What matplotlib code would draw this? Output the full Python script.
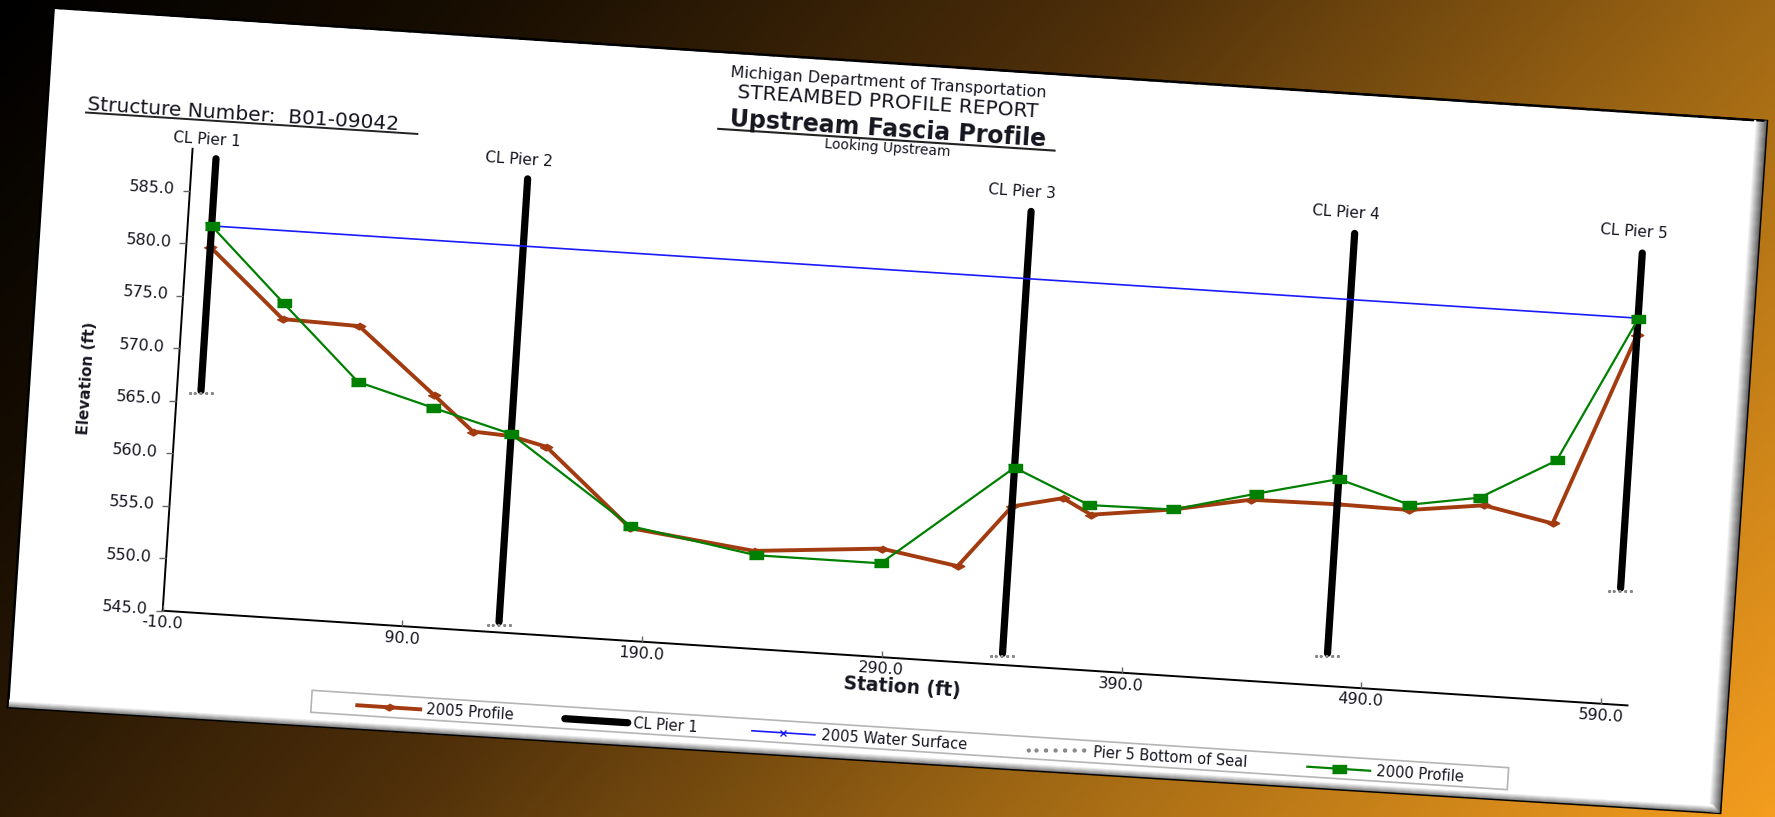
import numpy as np
import matplotlib.pyplot as plt
from matplotlib.transforms import Affine2D
from matplotlib.patches import Polygon, Rectangle
from matplotlib.colors import LinearSegmentedColormap

# Streambed profile data: station (ft) and elevation (ft)
station_2005 = [0, 32, 64, 97, 114, 130, 145, 182, 234, 287, 319, 340, 361, 373,
                407, 439, 475, 505, 536, 565, 595]
elev_2005 = [579.8, 573.4, 573.2, 567.1, 563.9, 563.7, 562.9, 555.7, 554.3, 555.3,
             554.1, 560.1, 561.2, 559.8, 560.8, 562.2, 562.3, 562.2, 563.1, 561.8, 580.2]
station_2000 = [0, 32, 65, 97, 130, 182, 235, 287, 340, 372, 407, 441, 475, 505,
                534, 565, 595]
elev_2000 = [581.8, 574.9, 567.9, 565.9, 563.9, 555.9, 553.9, 553.9, 563.8, 560.7,
             560.8, 562.8, 564.7, 562.7, 563.8, 567.8, 581.7]
water_station = [0, 595]
water_elev = [581.8, 581.8]

pier_names = ['CL Pier 1', 'CL Pier 2', 'CL Pier 3', 'CL Pier 4', 'CL Pier 5']
pier_station = [0, 130, 340, 475, 595]
pier_top = [588.2, 588.2, 588.2, 588.1, 588.0]
pier_bottom = [566.1, 546.0, 546.1, 548.1, 556.1]

xticks = [-10, 90, 190, 290, 390, 490, 590]
yticks = [545, 550, 555, 560, 565, 570, 575, 580, 585]
legend_labels = ['2005 Profile', 'CL Pier 1', '2005 Water Surface',
                 'Pier 5 Bottom of Seal', '2000 Profile']

W, H = 1775, 817
fig = plt.figure(figsize=(W / 100, H / 100), dpi=100)

# plot area (unrotated, pixels) and the tilt of the whole sheet
x0, y0, pw, ph = 162.7, 206.3, 1441.4, 420.8
tilt = Affine2D().rotate_deg_around(x0, y0, -3.7)

# orange-black gradient background
bg = fig.add_axes([0, 0, 1, 1])
yy, xx = np.mgrid[0:1:300j, 0:1:600j]
shade = 0.7 * xx + 0.3 * yy
bg_cmap = LinearSegmentedColormap.from_list(
    'bg', [(0, '#000000'), (0.2, '#1a0f02'), (0.45, '#4f300a'),
           (0.7, '#a06814'), (1.0, '#f49d1e')])
bg.imshow(shade, cmap=bg_cmap, extent=(0, W, 0, H), origin='upper',
          aspect='auto', interpolation='bilinear')
bg.set_xlim(0, W)
bg.set_ylim(0, H)
bg.axis('off')

# the white sheet, in pixel units before tilting
page = fig.add_axes([0, 0, 1, 1])
page.set_xlim(0, W)
page.set_ylim(0, H)
page.axis('off')
P = page.transData + tilt

card = [(15, 801), (1732, 798.5), (1730, 105), (14.5, 100)]
page.add_patch(Polygon(card, closed=True, fc='white', ec='black', lw=1.8,
                       transform=P, clip_on=False))
for k in range(1, 13):
    g = str(0.35 + 0.65 * k / 12)
    page.plot([1732 - k, 1730 - k], [798, 106], color=g, lw=1.1,
              transform=P, clip_on=False)
for k in range(1, 8):
    g = str(0.45 + 0.55 * k / 7)
    page.plot([16, 1729 - k], [100 + k, 105 + k], color=g, lw=1.1,
              transform=P, clip_on=False)
page.plot([15, 1732], [801, 798.5], color='black', lw=1.5, ls=(0, (4, 3)),
          transform=P, clip_on=False)

txt = dict(color='#15151f', transform=P, transform_rotates_text=True,
           rotation_mode='anchor', clip_on=False)
page.text(852.5, 775.5, 'Michigan Department of Transportation', fontsize=11.5,
          ha='center', va='baseline', **txt)
page.text(853.5, 755.3, 'STREAMBED PROFILE REPORT', fontsize=14.5,
          ha='center', va='baseline', **txt)
page.text(855, 727, 'Upstream Fascia Profile', fontsize=17, fontweight='bold',
          ha='center', va='baseline', **txt)
page.plot([686, 1023], [723, 723], color='#222222', lw=1.5, transform=P, clip_on=False)
page.text(856, 710.5, 'Looking Upstream', fontsize=10, ha='center', va='baseline', **txt)
page.text(54.4, 701, 'Structure Number:  B01-09042', fontsize=14.5,
          ha='left', va='baseline', **txt)
page.plot([54, 386], [698.5, 698.5], color='#222222', lw=1.4, transform=P, clip_on=False)
page.text(71.9, 433.3, 'Elevation (ft)', fontsize=11, fontweight='bold', rotation=90,
          ha='center', va='center', **txt)
page.text(905.6, 177.8, 'Station (ft)', fontsize=13.5, fontweight='bold',
          ha='center', va='center', **txt)

# data axes, drawn through its own scales and then tilted with the sheet
ax = fig.add_axes([x0 / W, y0 / H, pw / W, ph / H])
ax.set_xlim(-10, 590)
ax.set_ylim(545, 585)
ax.axis('off')
T = ax.transData + tilt


def shifted(dx, dy):
    return ax.transData + Affine2D().translate(dx, dy) + tilt


ax.plot([-10, 601], [545, 545], color='black', lw=1.4, transform=T, clip_on=False)
ax.plot([-10, -10], [545, 589], color='black', lw=1.4, transform=T, clip_on=False)
ax.plot(xticks, [545] * len(xticks), ls='none', marker=2, ms=4, mew=1,
        color='#666666', transform=T, clip_on=False)
ax.plot([-10] * len(yticks), yticks, ls='none', marker=0, ms=5, mew=1,
        color='#666666', transform=T, clip_on=False)

tick_txt = dict(color='#15151f', fontsize=11.5, transform_rotates_text=True,
                rotation_mode='anchor', clip_on=False)
for v in xticks:
    ax.text(v, 545, f'{v:.1f}', transform=shifted(0, -12), ha='center', va='center',
            **tick_txt)
for v in yticks:
    ax.text(-10, v, f'{v:.1f}', transform=shifted(-15, 0), ha='right', va='center',
            **tick_txt)

diamond = [(-1.8, 0), (0, -1), (1.8, 0), (0, 1)]
rect = [(-1.6, -1), (1.6, -1), (1.6, 1), (-1.6, 1)]
seal_marker = r'$\circ\circ\circ\circ\circ$'

style_2005 = dict(color='#a33b10', lw=2.8)
style_pier = dict(color='black', lw=5.2, solid_capstyle='round')
style_water = dict(color='#1a1aff', lw=1.2)
style_seal = dict(color='#8a8a8a')
style_2000 = dict(color='#008000', lw=1.6)

ax.plot(station_2005, elev_2005, marker=diamond, ms=9, transform=T, clip_on=False,
        zorder=2, **style_2005)
for name, st, top, bot in zip(pier_names, pier_station, pier_top, pier_bottom):
    ax.plot([st, st], [bot, top], transform=T, clip_on=False, zorder=3, **style_pier)
    ax.plot(st, bot - 0.25, ls='none', marker=seal_marker, ms=17, transform=T,
            clip_on=False, zorder=3, **style_seal)
    ax.text(st, 590, name, transform=shifted(-10, 0), ha='center', va='center',
            **dict(tick_txt, fontsize=11))
ax.plot(water_station, water_elev, marker='x', ms=5, transform=T, clip_on=False,
        zorder=4, **style_water)
ax.plot(station_2000, elev_2000, marker=rect, ms=10, transform=T, clip_on=False,
        zorder=5, **style_2000)

# legend box, one tilted row
page.add_patch(Rectangle((317, 114.5), 1199, 22, fc='none', ec='#b5b5b5', lw=1.2,
                         transform=P, clip_on=False))
leg_x = [363, 571, 758.5, 1032, 1315]
leg_y = 124.5
leg_styles = [style_2005, style_pier, style_water, None, style_2000]
leg_markers = [(diamond, 9), (None, 0), ('x', 5), (None, 0), (rect, 10)]
for lx, label, sty, (mk, ms) in zip(leg_x, legend_labels, leg_styles, leg_markers):
    if sty is None:
        page.plot(lx + 31.5, leg_y, ls='none', marker=r'$\circ\circ\circ\circ\circ\circ\circ$',
                  ms=42, transform=P, clip_on=False, **style_seal)
    else:
        page.plot([lx, lx + 63], [leg_y, leg_y], transform=P, clip_on=False, **sty)
        if mk is not None:
            page.plot(lx + 31.5, leg_y, ls='none', marker=mk, ms=ms, color=sty['color'],
                      transform=P, clip_on=False)
    page.text(lx + 69, leg_y, label, fontsize=10.5, ha='left', va='center', **txt)

fig.savefig('out.png', dpi=100)
